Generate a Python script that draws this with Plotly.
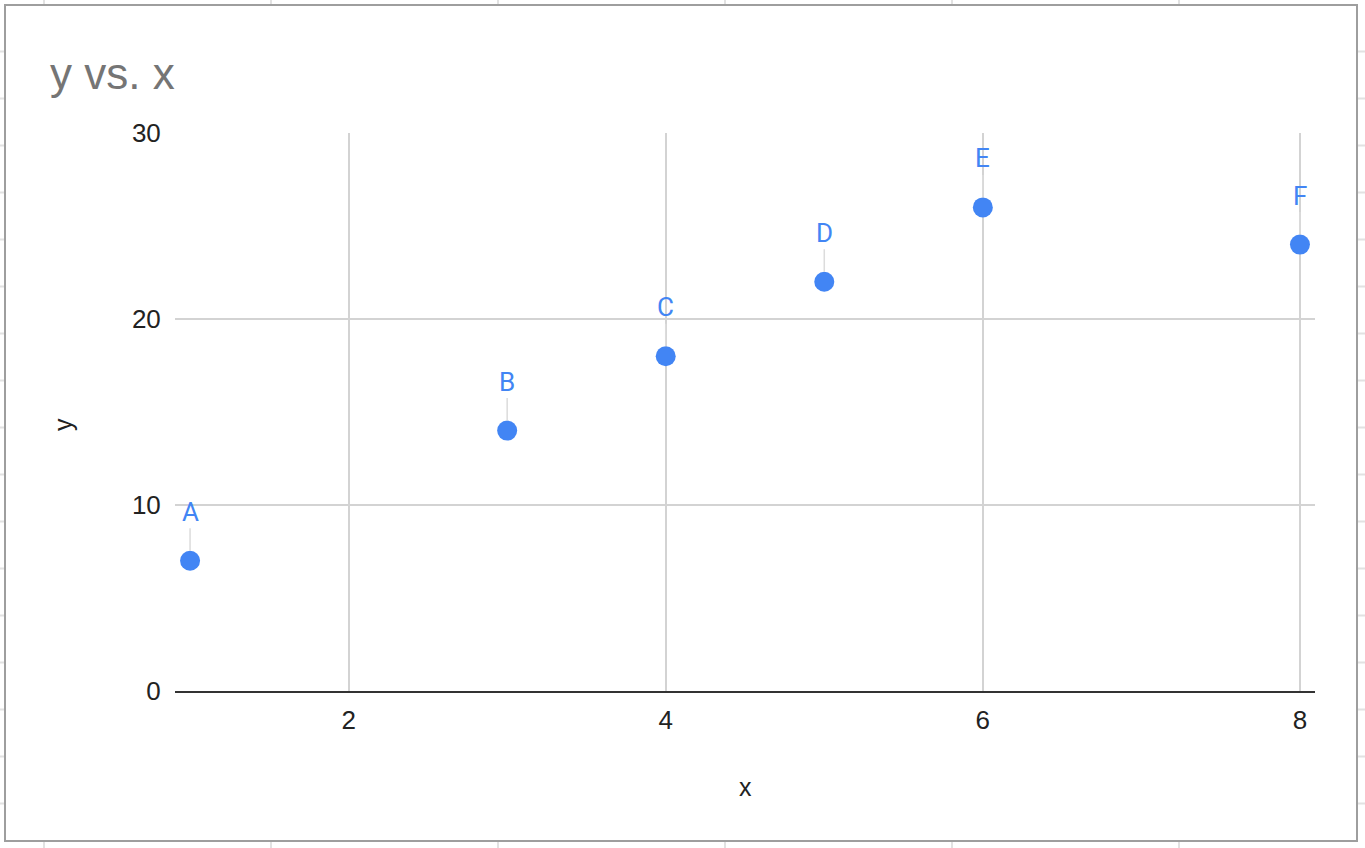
import plotly.graph_objects as go

# ---- data ----
labels = ["A", "B", "C", "D", "E", "F"]
x_vals = [1, 3, 4, 5, 6, 8]
y_vals = [7, 14, 18, 22, 26, 24]
x_ticks = [2, 4, 6, 8]
y_ticks = [0, 10, 20, 30]

W, H = 1365, 848
L, R, T, B = 175, 50, 133, 157
PW, PH = W - L - R, H - T - B

def px(xp):
    return (xp - L) / PW

def py(yp):
    return (H - B - yp) / PH

BLUE = "#4285f4"
FONT = "Arial, Liberation Sans, sans-serif"
LFONT = "Roboto"

fig = go.Figure()
fig.add_trace(go.Scatter(
    x=x_vals, y=y_vals, mode="markers",
    marker=dict(size=20, color=BLUE),
    cliponaxis=False, hoverinfo="skip", showlegend=False,
))

annotations = []
for lab, xv, yv in zip(labels, x_vals, y_vals):
    annotations.append(dict(
        x=xv, y=yv, xref="x", yref="y", text=lab,
        showarrow=True, arrowhead=0, ax=0, ay=-49, standoff=10,
        arrowcolor="#dcdcdc", arrowwidth=1.5,
        font=dict(family=LFONT, size=26, color=BLUE),
    ))
# axis titles
annotations.append(dict(x=px(745), y=py(787), xref="paper", yref="paper",
                        xanchor="center", yanchor="middle",
                        text="x", showarrow=False,
                        font=dict(family=FONT, size=25, color="#222222")))
annotations.append(dict(x=px(63), y=py(425), xref="paper", yref="paper",
                        xanchor="center", yanchor="middle",
                        text="y", showarrow=False, textangle=-90,
                        font=dict(family=FONT, size=25, color="#222222")))

shapes = []
# spreadsheet grid behind the chart
for gx in [44, 271, 498, 725, 952, 1179]:
    shapes.append(dict(type="line", xref="paper", yref="paper", layer="below",
                       x0=px(gx), x1=px(gx), y0=py(0), y1=py(H),
                       line=dict(color="#e2e2e2", width=2)))
for k in range(17):
    gy = 51.5 + 47 * k
    shapes.append(dict(type="line", xref="paper", yref="paper", layer="below",
                       x0=px(0), x1=px(W), y0=py(gy), y1=py(gy),
                       line=dict(color="#e2e2e2", width=2)))
# chart card
shapes.append(dict(type="rect", xref="paper", yref="paper", layer="below",
                   x0=px(5), x1=px(1357), y0=py(841), y1=py(5),
                   fillcolor="white", line=dict(color="#9e9e9e", width=2)))

fig.update_layout(
    width=W, height=H,
    margin=dict(l=L, r=R, t=T, b=B),
    paper_bgcolor="white", plot_bgcolor="rgba(0,0,0,0)",
    title=dict(text="y vs. x", x=50 / W, xref="container", xanchor="left",
               y=1 - 74 / H, yref="container", yanchor="middle",
               font=dict(family=FONT, size=44, color="#757575")),
    xaxis=dict(range=[0.905, 8.095], tickvals=x_ticks, showgrid=True,
               gridcolor="#d3d3d3", gridwidth=2, zeroline=False,
               showline=True, linecolor="#333333", linewidth=2,
               ticks="outside", ticklen=5, tickcolor="rgba(0,0,0,0)",
               tickfont=dict(family=FONT, size=26, color="#222222")),
    yaxis=dict(range=[0, 30], tickvals=y_ticks, showgrid=True,
               gridcolor="#d3d3d3", gridwidth=2, zeroline=False,
               ticks="outside", ticklen=8, tickcolor="rgba(0,0,0,0)",
               tickfont=dict(family=FONT, size=26, color="#222222")),
    annotations=annotations,
    shapes=shapes,
    font=dict(family=FONT),
)

fig.write_html("out.html",
               config={"displayModeBar": False},
               post_script="document.body.style.margin='0';document.body.style.overflow='hidden';")
